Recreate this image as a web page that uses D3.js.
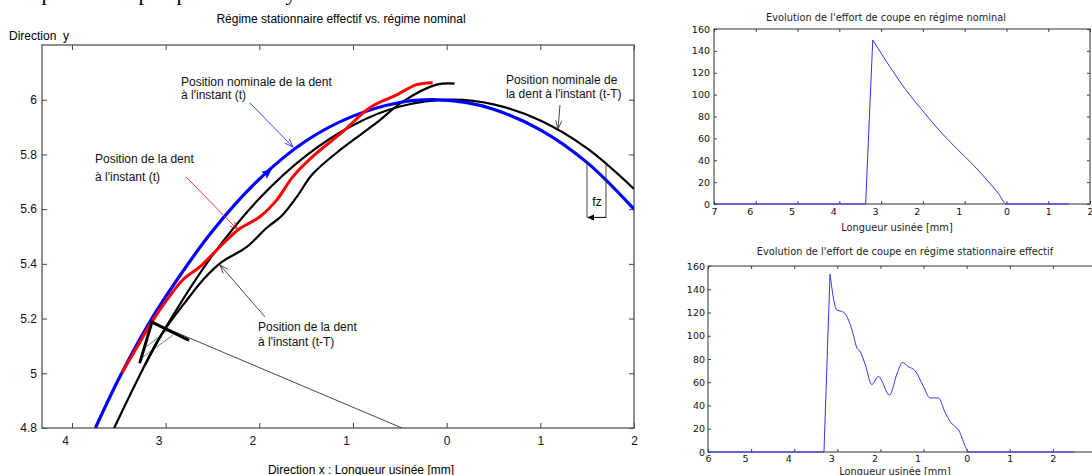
<!DOCTYPE html>
<html><head><meta charset="utf-8">
<script src="https://cdn.jsdelivr.net/npm/d3@7"></script>
<style>
body{margin:0;background:#fff;}
svg{display:block;}
text{font-family:"Liberation Sans",Arial,sans-serif;}
</style>
</head><body>
<svg id="c" width="1092" height="475"></svg>
<script>
// ---------------- DATA (main chart: tool tooth positions, mm) ----------------
const mainXTicks = [-4, -3, -2, -1, 0, 1, 2];
const mainYTicks = [4.8, 5, 5.2, 5.4, 5.6, 5.8, 6];

// nominal tooth position at instant t (blue)
const nomTX = [-3.75, -3.5, -3.2, -3.0, -2.5, -2.0, -1.5, -1.0, -0.5, -0.15, 0.2, 0.5, 1.0, 1.5, 2.0];
const nomTY = [4.80, 4.98, 5.17, 5.28, 5.52, 5.71, 5.85, 5.94, 5.99, 6.00, 5.99, 5.965, 5.89, 5.77, 5.60];

// nominal tooth position at instant t-T (black, smooth)
const nomTTX = [-3.22, -3.0, -2.5, -2.0, -1.5, -1.0, -0.5, 0.05, 0.5, 1.0, 1.5, 2.0];
const nomTTY = [5.03, 5.167, 5.431, 5.639, 5.796, 5.907, 5.975, 6.00, 5.983, 5.924, 5.822, 5.674];

// effective tooth position at instant t (red)
const effTX = [-3.467, -3.307, -3.147, -2.987, -2.816, -2.635, -2.453, -2.229, -1.995, -1.813, -1.643, -1.408, -1.109, -0.821, -0.533, -0.32, -0.149];
const effTY = [5.001, 5.095, 5.188, 5.268, 5.342, 5.389, 5.451, 5.524, 5.572, 5.634, 5.718, 5.799, 5.883, 5.971, 6.018, 6.055, 6.062];

// effective tooth position at instant t-T (black, wavy)
const effTTX = [-3.55, -3.275, -3.061, -2.773, -2.581, -2.40, -2.133, -1.92, -1.76, -1.60, -1.429, -1.12, -0.747, -0.469, -0.107, 0.085];
const effTTY = [4.80, 4.994, 5.133, 5.268, 5.349, 5.407, 5.462, 5.532, 5.576, 5.645, 5.729, 5.821, 5.916, 5.993, 6.055, 6.059];

// ---------------- DATA (right charts: cutting force) ----------------
const forceYTicks = [0, 20, 40, 60, 80, 100, 120, 140, 160];
const nomXTicks = [-7, -6, -5, -4, -3, -2, -1, 0, 1, 2];
const effXTicks = [-6, -5, -4, -3, -2, -1, 0, 1, 2];

const forceNomX = [-7, -3.37, -3.2, -2.8, -2.4, -2.0, -1.6, -1.2, -0.8, -0.4, -0.2, 0, 1.5];
const forceNomY = [0, 0, 150, 126, 104, 85, 67, 51, 36, 19, 10, 0, 0];

const forceEffX = [-6, -3.31, -3.17, -3.01, -2.9, -2.8, -2.66, -2.54, -2.48, -2.36, -2.2, -2.05, -1.79, -1.61, -1.49, -1.36, -1.2, -1.01, -0.85, -0.66, -0.5, -0.38, -0.19, 0.06, 2.5];
const forceEffY = [0, 0, 153, 122, 121, 118, 105, 89, 87, 76, 58, 65, 49, 68, 77, 73.5, 70, 57, 46.5, 46.5, 34, 26, 19, 0, 0];

// ---------------- LAYOUT ----------------
const svg = d3.select("#c");
const FONT = '"Liberation Sans",Arial,sans-serif';
const FONT2 = '"DejaVu Sans",sans-serif';
const AX = "#444";

// cropped line of the document above the figure (only descenders visible)
[["p",47],["p",144],["p",182],["y",291]].forEach(([c,x]) => {
  svg.append("text").attr("x", x).attr("y", 0).attr("text-anchor","middle")
    .style("font-family",'"Liberation Serif",serif').style("font-size","22px").attr("fill","#000").text(c);
});

// ===== MAIN CHART =====
const mx = d3.scaleLinear().domain([-4.32, 2]).range([42, 634]);
const my = d3.scaleLinear().domain([4.8, 6.2]).range([428, 45]);
const main = svg.append("g");

main.append("defs").append("clipPath").attr("id","clipMain")
  .append("rect").attr("x", mx.range()[0]).attr("y", my.range()[1])
  .attr("width", mx.range()[1]-mx.range()[0]).attr("height", my.range()[0]-my.range()[1]);

function styleAxis(g, fs, fam){
  g.select(".domain").remove();
  g.selectAll("line").attr("stroke", AX);
  g.selectAll("text").style("font-size", fs).style("font-family", fam).attr("fill","#111");
}
const absFmt = d => String(Math.abs(d));

const gxB = main.append("g").attr("transform",`translate(0,${my.range()[0]})`)
  .call(d3.axisBottom(mx).tickValues(mainXTicks).tickSizeInner(-5).tickSizeOuter(0).tickPadding(8).tickFormat(absFmt));
styleAxis(gxB, "12px", FONT);
gxB.selectAll(".tick text").attr("dx", d => d < 0 ? -7 : 0);
const gxT = main.append("g").attr("transform",`translate(0,${my.range()[1]})`)
  .call(d3.axisTop(mx).tickValues(mainXTicks).tickSizeInner(-5).tickSizeOuter(0).tickFormat(""));
styleAxis(gxT, "12px", FONT);
const gyL = main.append("g").attr("transform",`translate(${mx.range()[0]},0)`)
  .call(d3.axisLeft(my).tickValues(mainYTicks).tickSizeInner(-5).tickSizeOuter(0).tickPadding(5).tickFormat(d3.format("~g")));
styleAxis(gyL, "12px", FONT);
const gyR = main.append("g").attr("transform",`translate(${mx.range()[1]},0)`)
  .call(d3.axisRight(my).tickValues(mainYTicks).tickSizeInner(-5).tickSizeOuter(0).tickFormat(""));
styleAxis(gyR, "12px", FONT);

main.append("rect").attr("x", mx.range()[0]).attr("y", my.range()[1])
  .attr("width", mx.range()[1]-mx.range()[0]).attr("height", my.range()[0]-my.range()[1])
  .attr("fill","none").attr("stroke","#555").attr("stroke-width",1.3);

main.append("text").attr("x", 341).attr("y", 23).attr("text-anchor","middle")
  .style("font-size","12px").text("Régime stationnaire effectif vs. régime nominal");
main.append("text").attr("x", 9).attr("y", 40).style("font-size","12px").attr("xml:space","preserve")
  .text("Direction  y");
main.append("text").attr("x", 361).attr("y", 474).attr("text-anchor","middle")
  .style("font-size","12px").text("Direction x : Longueur usinée [mm]");

const plot = main.append("g").attr("clip-path","url(#clipMain)");
const lineMain = d3.line().x(d => mx(d[0])).y(d => my(d[1])).curve(d3.curveCatmullRom.alpha(0.5));
const zip = (a,b) => a.map((v,i) => [v, b[i]]);

// tooth geometry (annotation)
const tooth = { tip:[-3.146,5.187], rake:[-2.761,5.122], flank:[-3.274,5.041], center:[-0.477,4.8] };
const hatch = [[[-3.21,5.096],[-2.975,5.158]], [[-3.242,5.060],[-2.921,5.140]]];

plot.append("line").attr("x1", mx(tooth.tip[0])).attr("y1", my(tooth.tip[1]))
  .attr("x2", mx(tooth.center[0])).attr("y2", my(tooth.center[1])).attr("stroke","#333").attr("stroke-width",0.9);
hatch.forEach(h => plot.append("line").attr("x1", mx(h[0][0])).attr("y1", my(h[0][1]))
  .attr("x2", mx(h[1][0])).attr("y2", my(h[1][1])).attr("stroke","#555").attr("stroke-width",0.8));

plot.append("path").attr("d", lineMain(zip(effTTX, effTTY))).attr("fill","none").attr("stroke","#000").attr("stroke-width",2.2);
plot.append("path").attr("d", lineMain(zip(nomTTX, nomTTY))).attr("fill","none").attr("stroke","#000").attr("stroke-width",2.2);
plot.append("path").attr("d", lineMain(zip(nomTX, nomTY))).attr("fill","none").attr("stroke","#0000ff").attr("stroke-width",3.2);
plot.append("path").attr("d", lineMain(zip(effTX, effTY))).attr("fill","none").attr("stroke","#ff0000").attr("stroke-width",3);

[[tooth.tip, tooth.rake],[tooth.tip, tooth.flank]].forEach(([a,b]) =>
  plot.append("line").attr("x1", mx(a[0])).attr("y1", my(a[1])).attr("x2", mx(b[0])).attr("y2", my(b[1]))
    .attr("stroke","#000").attr("stroke-width",3).attr("stroke-linecap","round"));

// direction arrowhead on the blue curve
(function(){
  const p = [-1.9, 5.737], q = [-1.7, 5.79];
  const x0 = mx(p[0]), y0 = my(p[1]);
  const ang = Math.atan2(my(q[1])-y0, mx(q[0])-x0) * 180/Math.PI;
  plot.append("path").attr("d","M4,0 L-6,-4.5 L-4,0 L-6,4.5 Z").attr("fill","#0000ff")
    .attr("transform",`translate(${x0},${y0}) rotate(${ang})`);
})();

// annotation arrows with open heads
function arrow(g, from, to, color, w){
  const x1 = mx(from[0]), y1 = my(from[1]), x2 = mx(to[0]), y2 = my(to[1]);
  g.append("line").attr("x1",x1).attr("y1",y1).attr("x2",x2).attr("y2",y2).attr("stroke",color).attr("stroke-width",w);
  const a = Math.atan2(y2-y1, x2-x1), L = 9, s = 0.35;
  [a+Math.PI-s, a+Math.PI+s].forEach(b =>
    g.append("line").attr("x1",x2).attr("y1",y2).attr("x2",x2+L*Math.cos(b)).attr("y2",y2+L*Math.sin(b))
      .attr("stroke",color).attr("stroke-width",w));
}
arrow(main, [-2.100,5.988], [-1.640,5.827], "#3030ff", 0.9);
arrow(main, [-2.783,5.718], [-2.228,5.524], "#ff2020", 0.9);
arrow(main, [-1.939,5.206], [-2.420,5.396], "#333", 0.9);
arrow(main, [1.210,5.981], [1.189,5.893], "#333", 0.9);

// fz dimension
const fz = { left:[1.498,5.775], right:[1.701,5.768], bottom:5.568, label:[1.605,5.612] };
[fz.left, fz.right].forEach(p => main.append("line").attr("x1", mx(p[0])).attr("x2", mx(p[0]))
  .attr("y1", my(p[1])).attr("y2", my(fz.bottom)).attr("stroke","#333").attr("stroke-width",0.9));
main.append("line").attr("x1", mx(fz.right[0])).attr("x2", mx(fz.left[0])+3)
  .attr("y1", my(fz.bottom)-0.5).attr("y2", my(fz.bottom)-0.5).attr("stroke","#000").attr("stroke-width",1);
main.append("path").attr("d","M0,0 L7,-3 L7,3 Z").attr("fill","#000")
  .attr("transform",`translate(${mx(fz.left[0])},${my(fz.bottom)-0.5})`);
main.append("text").attr("x", mx(fz.label[0])).attr("y", my(fz.label[1])).attr("text-anchor","middle")
  .style("font-size","12px").text("fz");

// annotation texts
const notes = [
  { at:[-2.836,6.050], lh:13, lines:["Position nominale de la dent","à l'instant (t)"] },
  { at:[-3.754,5.769], lh:18, lines:["Position de la dent","à l'instant (t)"] },
  { at:[-2.014,5.155], lh:15, lines:["Position de la dent","à l'instant (t-T)"] },
  { at:[0.633,6.057], lh:14, lines:["Position nominale de","la dent à l'instant (t-T)"] }
];
notes.forEach(n => n.lines.forEach((t,i) =>
  main.append("text").attr("x", mx(n.at[0])).attr("y", my(n.at[1]) + i*n.lh).style("font-size","12px").attr("fill","#111").text(t)));

// ===== RIGHT CHARTS =====
function forceChart(cfg){
  const g = svg.append("g");
  const x = d3.scaleLinear().domain(cfg.xdom).range(cfg.xr);
  const y = d3.scaleLinear().domain([0,160]).range(cfg.yr);
  const id = "clip" + cfg.id;
  g.append("defs").append("clipPath").attr("id", id).append("rect")
    .attr("x", cfg.xr[0]).attr("y", cfg.yr[1]-2).attr("width", cfg.xr[1]-cfg.xr[0]).attr("height", cfg.yr[0]-cfg.yr[1]+4);
  const b = g.append("g").attr("transform",`translate(0,${cfg.yr[0]})`)
    .call(d3.axisBottom(x).tickValues(cfg.xticks).tickSizeInner(-3).tickSizeOuter(0).tickPadding(cfg.xpad).tickFormat(absFmt));
  styleAxis(b, "9.5px", FONT2);
  b.selectAll(".tick text").attr("dx", d => (d < 0 && d > cfg.xdom[0]) ? -6 : 0);
  const t = g.append("g").attr("transform",`translate(0,${cfg.yr[1]})`)
    .call(d3.axisTop(x).tickValues(cfg.xticks).tickSizeInner(-3).tickSizeOuter(0).tickFormat(""));
  styleAxis(t, "9.5px", FONT2);
  const l = g.append("g").attr("transform",`translate(${cfg.xr[0]},0)`)
    .call(d3.axisLeft(y).tickValues(forceYTicks).tickSizeInner(-3).tickSizeOuter(0).tickPadding(cfg.ypad));
  styleAxis(l, "9.5px", FONT2);
  const r = g.append("g").attr("transform",`translate(${cfg.xr[1]},0)`)
    .call(d3.axisRight(y).tickValues(forceYTicks).tickSizeInner(-3).tickSizeOuter(0).tickFormat(""));
  styleAxis(r, "9.5px", FONT2);
  g.append("rect").attr("x", cfg.xr[0]).attr("y", cfg.yr[1]).attr("width", cfg.xr[1]-cfg.xr[0]).attr("height", cfg.yr[0]-cfg.yr[1])
    .attr("fill","none").attr("stroke","#333").attr("stroke-width",1);
  g.append("text").attr("x", cfg.title[1]).attr("y", cfg.title[2]).attr("text-anchor","middle")
    .style("font-family", FONT2).style("font-size","9.8px").attr("fill","#222").text(cfg.title[0]);
  g.append("text").attr("x", cfg.xlab[0]).attr("y", cfg.xlab[1]).attr("text-anchor","middle")
    .style("font-family", FONT2).style("font-size","9.8px").attr("fill","#222").text("Longueur usinée [mm]");
  const pts = zip(cfg.xs, cfg.ys);
  const k = d3.maxIndex(cfg.ys);
  const pg = g.append("g").attr("clip-path", `url(#${id})`);
  const lin = d3.line().x(d => x(d[0])).y(d => y(d[1]));
  pg.append("path").attr("d", lin(pts.slice(0, k+1))).attr("fill","none").attr("stroke","#3333ff").attr("stroke-width",1);
  pg.append("path").attr("d", lin.curve(d3.curveMonotoneX)(pts.slice(k))).attr("fill","none").attr("stroke","#3333ff").attr("stroke-width",1);
}
forceChart({ id:"n", xdom:[-7,2], xr:[714,1090], yr:[204,29], xticks:nomXTicks, xpad:4, ypad:4,
  title:["Evolution de l'effort de coupe en régime nominal", 886, 21], xlab:[897, 231],
  xs:forceNomX, ys:forceNomY });
forceChart({ id:"e", xdom:[-6,3], xr:[708,1096], yr:[452,266], xticks:effXTicks, xpad:3, ypad:3,
  title:["Evolution de l'effort de coupe en régime stationnaire effectif", 905, 255], xlab:[895, 475],
  xs:forceEffX, ys:forceEffY });
</script>
</body></html>
